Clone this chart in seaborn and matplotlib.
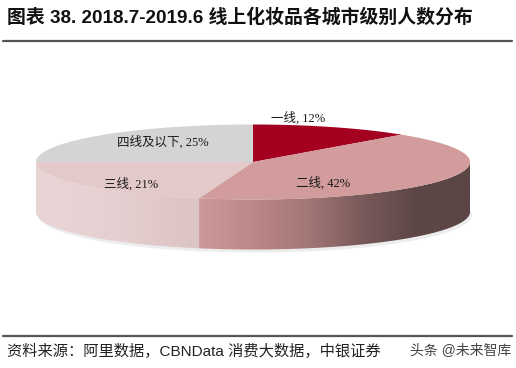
import numpy as np
import seaborn as sns
import matplotlib.pyplot as plt
from matplotlib.patches import Polygon
from matplotlib.colors import LinearSegmentedColormap

# ---------- data ----------
tiers = ['一线', '二线', '三线', '四线及以下']
shares = [12, 42, 21, 25]

title = '图表 38. 2018.7-2019.6 线上化妆品各城市级别人数分布'
source = '资料来源：阿里数据，CBNData 消费大数据，中银证券'
watermark = '头条 @未来智库'

# ---------- styles / layout ----------
top_colors = ['#A4001F', '#D29C9C', '#E4C9CA', '#D4D4D4']
side_ramps = [None,
              ['#CE9999', '#BC8787', '#A47777', '#7A5A5A', '#5E4747', '#5B4545'],
              ['#EAD5D6', '#E6CFD0', '#DCC3C4'],
              None]
label_xy = [(298, 118), (323, 183), (131, 184), (163, 142)]

cx, cy = 253, 162      # centre of top face (pixels)
ra, rb = 217, 37.5     # ellipse half axes
depth = 50             # thickness of the disc

sns.set_style("white")
plt.rcParams['font.family'] = ['Liberation Sans', 'Noto Sans CJK SC', 'DejaVu Sans']

fig = plt.figure(figsize=(5.16, 3.68), dpi=100)
ax = fig.add_axes([0, 0, 1, 1])


def rim(t, dy=0.0):
    return cx + ra * np.sin(t), cy - rb * np.cos(t) + dy


# faint shadow under the disc
t_all = np.linspace(0, 2 * np.pi, 200)
sx, sy = rim(t_all, depth + 3)
ax.add_patch(Polygon(np.column_stack([sx + 2, sy]), closed=True,
                     facecolor='#EDEDED', edgecolor='none', zorder=0))

cum = np.cumsum([0] + shares[:-1])
for i, (share, start) in enumerate(zip(shares, cum)):
    t0 = 2 * np.pi * start / 100
    t1 = 2 * np.pi * (start + share) / 100

    # --- visible side wall (front half only) ---
    s0, s1 = max(t0, np.pi / 2), min(t1, 3 * np.pi / 2)
    if side_ramps[i] is not None and s0 < s1:
        ts = np.linspace(s0, s1, 120)
        ux, uy = rim(ts)
        lx, ly = rim(ts[::-1], depth)
        side = Polygon(np.column_stack([np.r_[ux, lx], np.r_[uy, ly]]),
                       closed=True, facecolor='none', edgecolor='none', zorder=1)
        ax.add_patch(side)
        cmap = LinearSegmentedColormap.from_list('side%d' % i, side_ramps[i])
        xmin, xmax = min(ux.min(), lx.min()), max(ux.max(), lx.max())
        grad = np.linspace(0, 1, 256)[None, :]
        im = ax.imshow(grad, cmap=cmap, aspect='auto', zorder=1,
                       extent=(xmin, xmax, uy.min() - 1, ly.max() + 1))
        im.set_clip_path(side)

    # --- top face ---
    tt = np.linspace(t0, t1, 120)
    px, py = rim(tt)
    ax.add_patch(Polygon(np.column_stack([np.r_[cx, px], np.r_[cy, py]]),
                         closed=True, facecolor=top_colors[i],
                         edgecolor='none', zorder=2))

    lx_, ly_ = label_xy[i]
    ax.text(lx_, ly_, f'{tiers[i]}, {share}%', ha='center', va='center',
            fontsize=9, color='#1A1A1A', zorder=3,
            family=['Liberation Serif', 'Noto Sans CJK SC'])

# title and rules
ax.text(7, 17, title, ha='left', va='center', fontsize=13.6,
        fontweight='bold', color='#111111')
ax.plot([3, 512], [41, 41], color='#555555', lw=1.6)
ax.plot([3, 512], [336, 336], color='#555555', lw=1.6)
ax.text(7, 351, source, ha='left', va='center', fontsize=11, color='#222222')
ax.text(511, 351, watermark, ha='right', va='center', fontsize=10, color='#444444')

ax.set_xlim(0, 516)
ax.set_ylim(368, 0)
ax.axis('off')

fig.savefig('out.png', dpi=100, facecolor='white')
